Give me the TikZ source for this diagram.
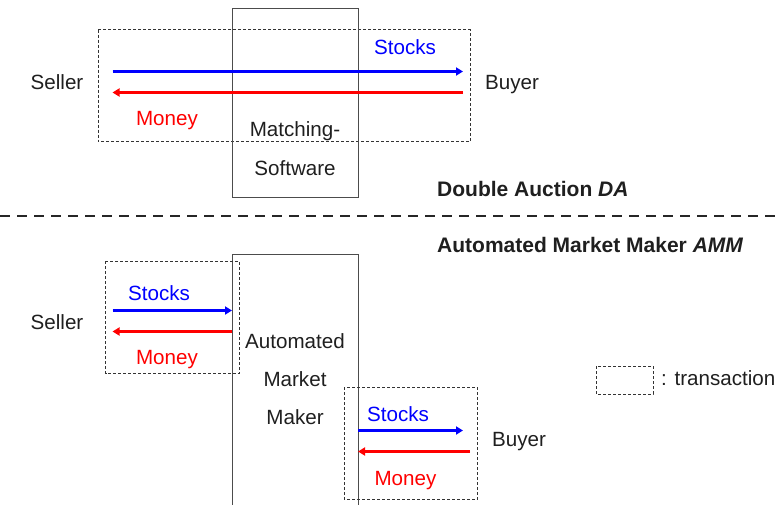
\documentclass[tikz,border=0pt]{standalone}
\usepackage{fontspec}
\setmainfont{Liberation Sans}
\usetikzlibrary{arrows.meta}
\begin{document}
\begin{tikzpicture}[x=1pt,y=-1pt,
  txt/.style={font=\fontsize{20.6}{24}\selectfont, text=black!88, inner sep=0pt, anchor=base},
  btxt/.style={font=\fontsize{21}{24}\selectfont\bfseries, text=black!88, inner sep=0pt, anchor=base west},
  solidbox/.style={draw=black!70, line width=1pt},
  transbox/.style={draw=black!80, line width=0.9pt, dash pattern=on 3pt off 2pt},
  flow/.style={line width=2.8pt, -{Triangle[length=7pt,width=8pt]}},
  stockflow/.style={flow, draw=blue, fill=blue},
  moneyflow/.style={flow, draw=red, fill=red}]
\useasboundingbox (0,0) rectangle (779,504);
% ---------- Double Auction ----------
\draw[transbox] (98,29.5) rectangle (470,141.5);
\node[solidbox, minimum width=126pt, minimum height=189pt, inner sep=0pt] (ms) at (295,103) {};
\node[txt] (mst1) at (295,136.7) {Matching-};
\node[txt] (mst2) at (295,175) {Software};
\node[txt] (s1) at (57,89.3) {Seller};
\node[txt] (b1) at (512,89.3) {Buyer};
\coordinate (a1) at (112.5,71.5);
\coordinate (a2) at (463,71.5);
\coordinate (a3) at (463,92.5);
\coordinate (a4) at (112.5,92.5);
\draw[stockflow] (a1) -- (a2);
\draw[moneyflow] (a3) -- (a4);
\node[txt, text=blue] (st1) at (405,54.3) {Stocks};
\node[txt, text=red] (mo1) at (167,125) {Money};
\node[btxt] (da) at (437,196) {Double Auction \textit{DA}};
% ---------- separator ----------
\coordinate (sepL) at (0,216);
\coordinate (sepR) at (779,216);
\draw[line width=2pt, dash pattern=on 10pt off 7pt, black!85] (sepL) -- (sepR);
% ---------- AMM ----------
\node[btxt] (amm) at (437,252.7) {Automated Market Maker \textit{AMM}};
\draw[solidbox] (232,510) -- (232,254) -- (358,254) -- (358,510);
\node[txt] (am1) at (295,348.7) {Automated};
\node[txt] (am2) at (295,386.7) {Market};
\node[txt] (am3) at (295,424.3) {Maker};
\draw[transbox] (105.5,261) rectangle (239,373.5);
\draw[transbox] (344,387) rectangle (477.5,499);
\node[txt] (s2) at (57,329) {Seller};
\node[txt] (b2) at (519,446.7) {Buyer};
\coordinate (c1) at (112.5,310.5);
\coordinate (c2) at (232,310.5);
\coordinate (c3) at (232,331.5);
\coordinate (c4) at (112.5,331.5);
\draw[stockflow] (c1) -- (c2);
\draw[moneyflow] (c3) -- (c4);
\node[txt, text=blue] (st2) at (159,300) {Stocks};
\node[txt, text=red] (mo2) at (167,364) {Money};
\coordinate (d1) at (358,430.5);
\coordinate (d2) at (463,430.5);
\coordinate (d3) at (470,451.5);
\coordinate (d4) at (358,451.5);
\draw[stockflow] (d1) -- (d2);
\draw[moneyflow] (d3) -- (d4);
\node[txt, text=blue] (st3) at (398,421) {Stocks};
\node[txt, text=red] (mo3) at (405.5,485) {Money};
% ---------- legend ----------
\draw[transbox] (596,366) rectangle (653,394);
\node[txt, anchor=base west] (leg) at (661,385) {: transaction};
\end{tikzpicture}
\end{document}
